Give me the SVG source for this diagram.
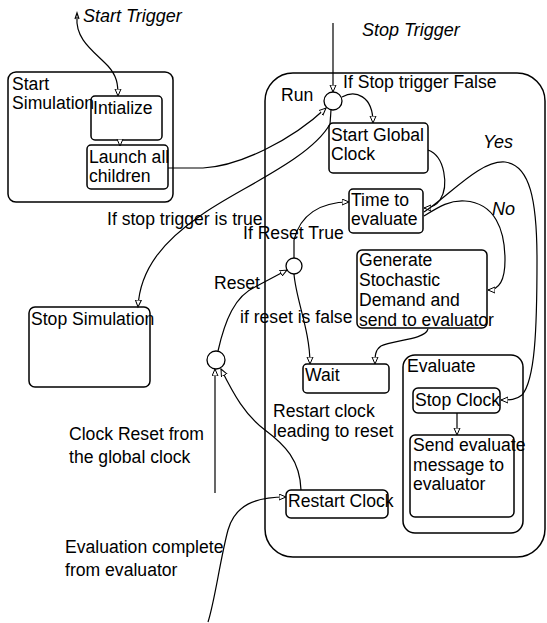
<svg xmlns="http://www.w3.org/2000/svg" width="547" height="623" viewBox="0 0 547 623">
  <defs>
    <style>
      .box { fill: none; stroke: #000; stroke-width: 1.5; }
      .pseudo { fill: #fff; stroke: #000; stroke-width: 1.3; }
      .wire { fill: none; stroke: #000; stroke-width: 1.2; }
      .arr { marker-end: url(#head); }
      text { font-family: "Liberation Sans", Arial, sans-serif; font-size: 17.6px; fill: #000; }
      .it { font-style: italic; font-size: 18px; }
    </style>
    <marker id="head" markerUnits="userSpaceOnUse" markerWidth="9" markerHeight="8" refX="7" refY="3.5" orient="auto">
      <path d="M0,0.5 L7,3.5 L0,6.5 z" fill="#fff" stroke="#000" stroke-width="1"/>
    </marker>
  </defs>

  <!-- composite state: Start Simulation -->
  <g id="start-simulation">
    <rect class="box" x="8" y="72" width="165" height="130" rx="8"/>
    <text x="12" y="90">Start</text>
    <text x="12" y="109">Simulation</text>
  </g>
  <g id="initialize">
    <rect class="box" x="91" y="96" width="71" height="44" rx="4"/>
    <text x="93" y="114">Intialize</text>
  </g>
  <g id="launch-children">
    <rect class="box" x="87" y="145" width="81" height="44" rx="4"/>
    <text x="89" y="163">Launch all</text>
    <text x="89" y="182">children</text>
  </g>

  <!-- state: Stop Simulation -->
  <g id="stop-simulation">
    <rect class="box" x="29" y="307" width="121" height="80" rx="6"/>
    <text x="31" y="325">Stop Simulation</text>
  </g>

  <!-- composite state: Run -->
  <g id="run">
    <rect class="box" x="265" y="73" width="280" height="484" rx="28"/>
    <text x="281" y="101">Run</text>
  </g>
  <g id="stop-choice">
    <circle class="pseudo" cx="333" cy="101" r="9"/>
  </g>
  <g id="start-global-clock">
    <rect class="box" x="329" y="123" width="99" height="50" rx="4"/>
    <text x="331" y="141">Start Global</text>
    <text x="331" y="160">Clock</text>
  </g>
  <g id="time-to-evaluate">
    <rect class="box" x="349" y="189" width="74" height="44" rx="4"/>
    <text x="351" y="206">Time to</text>
    <text x="351" y="225">evaluate</text>
  </g>
  <g id="reset-choice">
    <circle class="pseudo" cx="294" cy="266" r="8"/>
  </g>
  <g id="generate-demand">
    <rect class="box" x="357" y="250" width="130" height="78" rx="5"/>
    <text x="359" y="266">Generate</text>
    <text x="359" y="286">Stochastic</text>
    <text x="359" y="306">Demand and</text>
    <text x="359" y="326">send to evaluator</text>
  </g>
  <g id="wait">
    <rect class="box" x="303" y="364" width="86" height="29" rx="4"/>
    <text x="305" y="381">Wait</text>
  </g>
  <g id="evaluate">
    <rect class="box" x="403" y="355" width="120" height="178" rx="12"/>
    <text x="407" y="372">Evaluate</text>
  </g>
  <g id="stop-clock">
    <rect class="box" x="413" y="388" width="87" height="25" rx="5"/>
    <text x="415" y="406">Stop Clock</text>
  </g>
  <g id="send-evaluate">
    <rect class="box" x="410" y="435" width="104" height="82" rx="5"/>
    <text x="413" y="451">Send evaluate</text>
    <text x="413" y="471">message to</text>
    <text x="413" y="490">evaluator</text>
  </g>
  <g id="restart-choice">
    <circle class="pseudo" cx="216" cy="360" r="9"/>
  </g>
  <g id="restart-clock">
    <rect class="box" x="286" y="490" width="102" height="28" rx="5"/>
    <text x="288" y="507">Restart Clock</text>
  </g>

  <!-- transitions -->
  <g id="connectors">
    <path class="wire arr" d="M77,17 C75,40 95,52 108,66 C117,76 118,84 118,96"/>
    <path class="wire" d="M75,19 L77,13 L79,19"/>
    <path class="wire arr" d="M120,139 L120,146"/>
    <path class="wire arr" d="M168,168 L203,168 C240,166 292,140 326,108"/>
    <path class="wire arr" d="M333,23 L333,92"/>
    <path class="wire" d="M331,110 L330,124"/>
    <path class="wire arr" d="M330,124 C310,160 235,190 200,216 C165,240 140,268 138,307"/>
    <path class="wire arr" d="M342,97 C355,90 373,95 373,123"/>
    <path class="wire arr" d="M428,150 C445,156 449,186 440,200 C436,206 431,208 424,208"/>
    <path class="wire arr" d="M294,258 L294,240 C300,215 320,202 349,202"/>
    <path class="wire arr" d="M424,212 C450,195 480,160 505,162 C530,165 537,200 537,260 C537,330 535,380 522,395 C516,400 510,400 501,400"/>
    <path class="wire arr" d="M424,216 C440,206 450,200 465,201 C495,203 505,230 505,260 C505,280 500,290 488,290"/>
    <path class="wire arr" d="M428,329 C425,340 392,340 381,346 C375,350 375,356 375,364"/>
    <path class="wire arr" d="M294,274 C296,300 310,330 310,364"/>
    <path class="wire arr" d="M218,351 C225,320 235,296 255,287 L287,270"/>
    <path class="wire arr" d="M215,493 L215,369"/>
    <path class="wire arr" d="M301,490 C300,460 285,445 265,430 C245,415 234,395 221,369"/>
    <path class="wire arr" d="M208,622 C215,600 220,560 228,530 C235,505 255,497 286,497"/>
    <path class="wire arr" d="M457,413 L457,435"/>
  </g>

  <!-- transition labels -->
  <g id="labels">
    <text class="it" x="83" y="22">Start Trigger</text>
    <text class="it" x="362" y="36">Stop Trigger</text>
    <text x="343" y="88">If Stop trigger False</text>
    <text class="it" x="483" y="148">Yes</text>
    <text class="it" x="492" y="215">No</text>
    <text x="107" y="225">If stop trigger is true</text>
    <text x="243" y="239">If Reset True</text>
    <text x="214" y="289">Reset</text>
    <text x="240" y="323">if reset is false</text>
    <text x="273" y="417">Restart clock</text>
    <text x="273" y="437">leading to reset</text>
    <text x="69" y="440">Clock Reset from</text>
    <text x="69" y="463">the global clock</text>
    <text x="65" y="553">Evaluation complete</text>
    <text x="65" y="576">from evaluator</text>
  </g>
</svg>
